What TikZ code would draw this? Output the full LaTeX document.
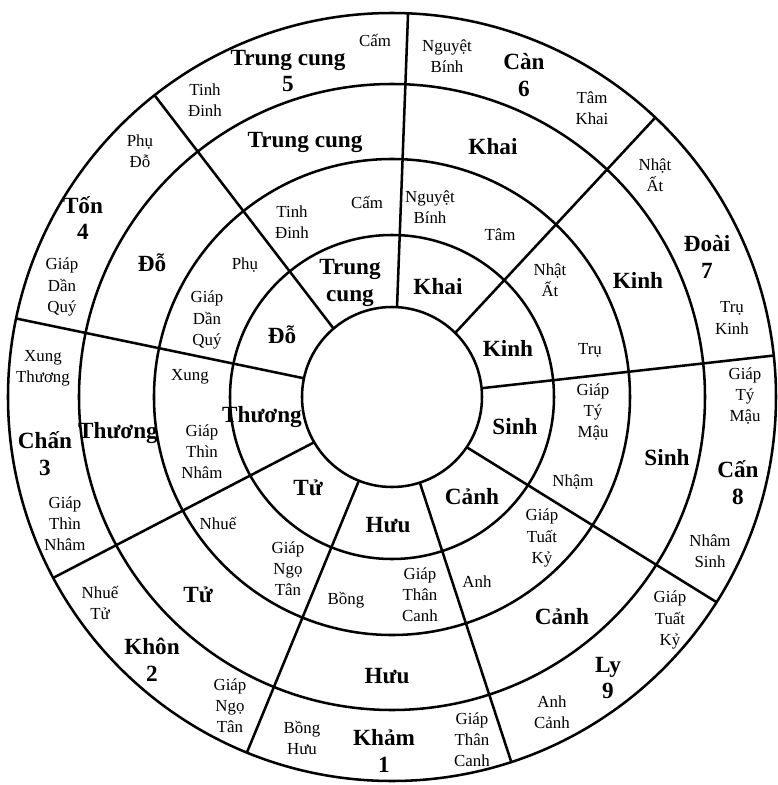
\documentclass[tikz,border=0pt]{standalone}
\usepackage{fontspec}
\setmainfont{Liberation Serif}
\usepackage{tikz}

\begin{document}
\begin{tikzpicture}[x=0.025cm,y=0.025cm,line width=1.8pt]
% ---- styles ----
\tikzstyle{doorlbl}=[font=\bfseries\fontsize{16.5}{19}\selectfont,
  align=center,inner sep=0pt]
\tikzstyle{gualbl}=[font=\bfseries\fontsize{16.5}{19}\selectfont,
  align=center,inner sep=0pt]
\tikzstyle{smalllbl}=[font=\fontsize{12}{15}\selectfont,
  align=center,inner sep=0pt]

\useasboundingbox (-392,-388) rectangle (386,397);

% ---- rings ----
\foreach \r in {90,162,238,313,384}
  \draw (0,0) circle (\r);

% ---- spokes (inner angle / outer angle) ----
\foreach \a/\b in {86.8/87.6,45.4/46.7,5.6/6.2,-33.9/-32.3,-72/-71.9,
  -111.6/-112.2,210.2/208.1,168/168.2,130.5/128.2}
  \draw (\a:90) -- (\b:384);

% ---- Trung cung 5 ----
\node[gualbl] (tcG) at (-104,326) {Trung cung\\5};
\node[smalllbl] (tcGa) at (-17,357) {Cấm};
\node[smalllbl] (tcGb) at (-187,297) {Tinh\\Đinh};
\node[doorlbl] (tcD) at (-87,255) {Trung cung};
\node[smalllbl] (tcSa) at (-25,195) {Cấm};
\node[smalllbl] (tcSb) at (-100,175) {Tinh\\Đinh};
\node[doorlbl] (tcI) at (-42,114) {Trung\\cung};

% ---- Can 6 ----
\node[gualbl] (canG) at (132,322) {Càn\\6};
\node[smalllbl] (canGa) at (55,341) {Nguyệt\\Bính};
\node[smalllbl] (canGb) at (200,289) {Tâm\\Khai};
\node[doorlbl] (canD) at (101,250) {Khai};
\node[smalllbl] (canSa) at (38,190) {Nguyệt\\Bính};
\node[smalllbl] (canSb) at (108,162) {Tâm};
\node[doorlbl] (canI) at (46,110) {Khai};

% ---- Doai 7 ----
\node[gualbl] (doaiG) at (315,140) {Đoài\\7};
\node[smalllbl] (doaiGa) at (263,222) {Nhật\\Ất};
\node[smalllbl] (doaiGb) at (340,79) {Trụ\\Kinh};
\node[doorlbl] (doaiD) at (246,117) {Kinh};
\node[smalllbl] (doaiSa) at (158,117) {Nhật\\Ất};
\node[smalllbl] (doaiSb) at (198,47) {Trụ};
\node[doorlbl] (doaiI) at (116,49) {Kinh};

% ---- Can 8 ----
\node[gualbl] (canbG) at (346,-86) {Cấn\\8};
\node[smalllbl] (canbGa) at (353,1) {Giáp\\Tý\\Mậu};
\node[smalllbl] (canbGb) at (318,-154) {Nhâm\\Sinh};
\node[doorlbl] (canbD) at (275,-61) {Sinh};
\node[smalllbl] (canbSa) at (201,-15) {Giáp\\Tý\\Mậu};
\node[smalllbl] (canbSb) at (181,-85) {Nhậm};
\node[doorlbl] (canbI) at (123,-30) {Sinh};

% ---- Ly 9 ----
\node[gualbl] (lyG) at (216,-281) {Ly\\9};
\node[smalllbl] (lyGa) at (278,-223) {Giáp\\Tuất\\Kỷ};
\node[smalllbl] (lyGb) at (160,-315) {Anh\\Cảnh};
\node[doorlbl] (lyD) at (170,-220) {Cảnh};
\node[smalllbl] (lySa) at (150,-141) {Giáp\\Tuất\\Kỷ};
\node[smalllbl] (lySb) at (85,-185) {Anh};
\node[doorlbl] (lyI) at (80,-100) {Cảnh};

% ---- Kham 1 ----
\node[gualbl] (khamG) at (-8,-354) {Khảm\\1};
\node[smalllbl] (khamGa) at (-90,-341) {Bồng\\Hưu};
\node[smalllbl] (khamGb) at (80,-343) {Giáp\\Thân\\Canh};
\node[doorlbl] (khamD) at (-5,-279) {Hưu};
\node[smalllbl] (khamSa) at (-46,-203) {Bồng};
\node[smalllbl] (khamSb) at (28,-198) {Giáp\\Thân\\Canh};
\node[doorlbl] (khamI) at (-4,-128) {Hưu};

% ---- Khon 2 ----
\node[gualbl] (khonG) at (-240,-263) {Khôn\\2};
\node[smalllbl] (khonGa) at (-292,-206) {Nhuế\\Tử};
\node[smalllbl] (khonGb) at (-162,-309) {Giáp\\Ngọ\\Tân};
\node[doorlbl] (khonD) at (-194,-198) {Tử};
\node[smalllbl] (khonSa) at (-174,-126) {Nhuế};
\node[smalllbl] (khonSb) at (-104,-172) {Giáp\\Ngọ\\Tân};
\node[doorlbl] (khonI) at (-84,-91) {Tử};

% ---- Chan 3 ----
\node[gualbl] (chanG) at (-347,-57) {Chấn\\3};
\node[smalllbl] (chanGa) at (-349,29) {Xung\\Thương};
\node[smalllbl] (chanGb) at (-327,-127) {Giáp\\Thìn\\Nhâm};
\node[doorlbl] (chanD) at (-274,-36) {Thương};
\node[smalllbl] (chanSa) at (-202,20) {Xung};
\node[smalllbl] (chanSb) at (-190,-55) {Giáp\\Thìn\\Nhâm};
\node[doorlbl] (chanI) at (-130,-20) {Thương};

% ---- Ton 4 ----
\node[gualbl] (tonG) at (-309,179) {Tốn\\4};
\node[smalllbl] (tonGa) at (-252,246) {Phụ\\Đỗ};
\node[smalllbl] (tonGb) at (-330,110) {Giáp\\Dần\\Quý};
\node[doorlbl] (tonD) at (-240,134) {Đỗ};
\node[smalllbl] (tonSa) at (-147,132) {Phụ};
\node[smalllbl] (tonSb) at (-185,77) {Giáp\\Dần\\Quý};
\node[doorlbl] (tonI) at (-110,62) {Đỗ};

\end{tikzpicture}
\end{document}
